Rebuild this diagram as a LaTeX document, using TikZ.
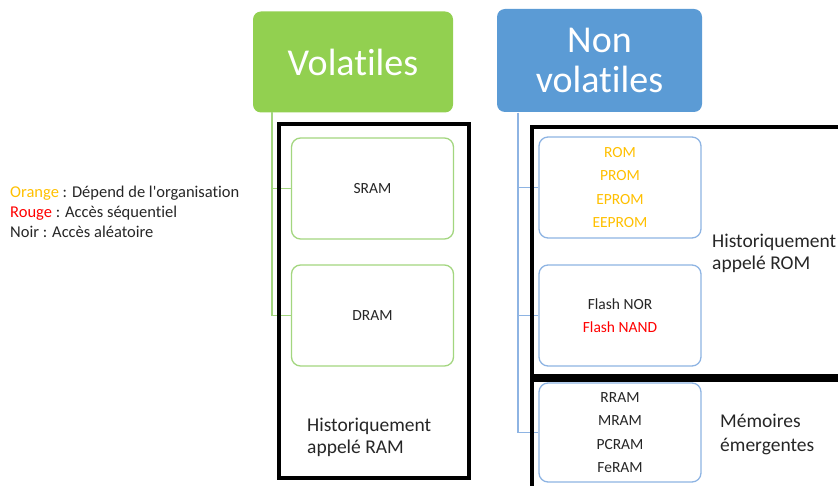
\documentclass[tikz,border=0pt]{standalone}
\usepackage{fontspec}
\setmainfont{Carlito}[Ligatures=NoCommon]
\definecolor{volgreen}{HTML}{92D050}
\definecolor{nvblue}{HTML}{5B9BD5}
\definecolor{lgreen}{HTML}{A3D67F}
\definecolor{lblue}{HTML}{8EB4E3}
\definecolor{romorange}{HTML}{FFC000}
\definecolor{inktext}{HTML}{262626}
\begin{document}
\begin{tikzpicture}[x=1pt,y=-1pt,
  head/.style={rounded corners=8pt, text=white, align=center, inner sep=0pt,
    minimum width=200pt, minimum height=101pt, font=\fontsize{38}{40}\selectfont},
  leaf/.style={draw, rounded corners=9pt, line width=1.3pt, fill=white, inner sep=0pt, text=inktext,
    minimum width=162pt, minimum height=101pt, align=center, font=\fontsize{15.5}{23.5}\selectfont},
  blackframe/.style={line width=4pt},
  note/.style={anchor=west, align=left, inner sep=0pt, text=inktext, font=\fontsize{19.5}{22}\selectfont}]
\clip (0,0) rectangle (838,486);
% titles
\node[head, fill=volgreen] (vol) at (353,62) {Volatiles};
\node[head, fill=nvblue, minimum width=205pt, minimum height=103pt] (nvol) at (599.5,60.5) {Non\\volatiles};
% memories
\node[leaf, draw=lgreen] (sram) at (372.5,188.5) {SRAM};
\node[leaf, draw=lgreen] (dram) at (372.5,315.5) {DRAM};
\node[leaf, draw=lblue] (rom) at (620,187.5) {\color{romorange}ROM\\\color{romorange}PROM\\\color{romorange}EPROM\\\color{romorange}EEPROM};
\node[leaf, draw=lblue] (flash) at (620,315.5) {Flash NOR\\\color{red}Flash NAND};
\node[leaf, draw=lblue, minimum height=99pt] (emerg) at (620,432.5) {RRAM\\MRAM\\PCRAM\\FeRAM};
% tree lines
\coordinate (vtrunk) at (272,112);
\coordinate (nvtrunk) at (518,113);
\draw[lgreen, line width=1.3pt] (vtrunk) |- (sram.west);
\draw[lgreen, line width=1.3pt] (vtrunk) |- (dram.west);
\draw[lblue, line width=1.3pt] (nvtrunk) |- (rom.west);
\draw[lblue, line width=1.3pt] (nvtrunk) |- (flash.west);
\draw[lblue, line width=1.3pt] (nvtrunk) |- (emerg.west);
% frames
\draw[blackframe] (279,124) rectangle (469,478);
\draw[blackframe] (532,127) rectangle (850,376);
\draw[blackframe] (532,380) rectangle (850,500);
% notes
\node[note] (ramnote) at (307,437) {Historiquement\\appelé RAM};
\node[note] (romnote) at (712,253) {Historiquement\\appelé ROM};
\node[note, font=\fontsize{19.5}{24}\selectfont] (emnote) at (720,434) {Mémoires\\émergentes};
\node[note, font=\fontsize{16.5}{20}\selectfont] (legend) at (10,212)
  {\textcolor{romorange}{Orange} : Dépend de l\textquotesingle organisation\\
   \textcolor{red}{Rouge} : Accès séquentiel\\
   Noir : Accès aléatoire};
\end{tikzpicture}
\end{document}
